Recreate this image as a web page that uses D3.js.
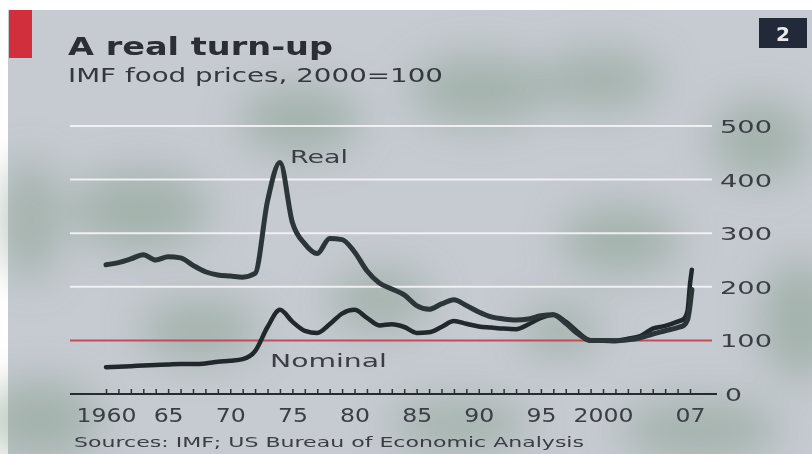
<!DOCTYPE html>
<html><head><meta charset="utf-8">
<script src="https://cdn.jsdelivr.net/npm/d3@7"></script>
<style>html,body{margin:0;padding:0;background:#fff;}svg{display:block;}</style>
</head><body>
<svg id="chart" width="812" height="454"></svg>
<script>
// ---- data ----
const years = [1960,1961,1962,1963,1964,1965,1966,1967,1968,1969,1970,1971,1972,1973,1974,1975,1976,1977,1978,1979,
  1980,1981,1982,1983,1984,1985,1986,1987,1988,1989,1990,1991,1992,1993,1994,1995,1996,1997,1998,1999,
  2000,2001,2002,2003,2004,2005,2006,2006.5,2006.8,2007.0,2007.15];
const realValues = [241,245,252,260,250,256,254,240,228,222,220,218,225,360,432,320,280,262,290,288,
  265,230,207,196,185,165,158,168,176,165,153,144,140,138,140,146,148,132,112,100,
  100,99,101,105,112,118,124,128,138,165,195];
const nominalValues = [50,51,52,53,54,55,56,56,57,60,62,65,80,125,157,135,118,114,130,150,
  157,142,128,130,125,114,115,125,136,131,126,124,122,121,130,142,148,135,115,100,
  100,100,103,108,122,127,135,140,155,205,232];
const yTicks = [0,100,200,300,400,500];
const xTickYears = [1960,1965,1970,1975,1980,1985,1990,1995,2000,2007];
const xTickLabels = ["1960","65","70","75","80","85","90","95","2000","07"];
const title = "A real turn-up";
const subtitle = "IMF food prices, 2000=100";
const source = "Sources: IMF; US Bureau of Economic Analysis";

// ---- drawing ----
const svg = d3.select("#chart");
const defs = svg.append("defs");
defs.append("filter").attr("id","blur").attr("x","-50%").attr("y","-50%").attr("width","200%").attr("height","200%")
  .append("feGaussianBlur").attr("stdDeviation",20);

// background panel
svg.append("rect").attr("x",8).attr("y",10).attr("width",804).attr("height",444).attr("fill","#c6cad1");
const blobs = [[140,210,70,40],[300,120,60,35],[480,90,70,35],[600,80,60,30],[760,140,50,40],[800,320,40,60],
  [700,430,80,30],[460,425,70,25],[40,420,60,40],[380,300,50,30],[620,240,60,35],[200,330,60,30],[30,220,30,60],[560,330,40,25]];
const bg = svg.append("g").attr("filter","url(#blur)");
bg.selectAll("ellipse").data(blobs).join("ellipse")
  .attr("cx",d=>d[0]).attr("cy",d=>d[1]).attr("rx",d=>d[2]).attr("ry",d=>d[3])
  .attr("fill","#87a08e").attr("opacity",0.55);

// red tab
svg.append("rect").attr("x",9).attr("y",10).attr("width",23).attr("height",48).attr("fill","#d22f3c");
// badge
svg.append("rect").attr("x",759).attr("y",18).attr("width",48).attr("height",30).attr("fill","#222a3a");
svg.append("text").attr("x",783).attr("y",41).attr("text-anchor","middle").attr("fill","#e8eaf0")
  .attr("font-family","DejaVu Sans").attr("font-weight","bold").attr("font-size",20).text("2");

// titles
svg.append("text").attr("x",68).attr("y",55).attr("fill","#2b2e33")
  .attr("font-family","DejaVu Sans").attr("font-weight","bold").attr("font-size",25)
  .attr("textLength",265).attr("lengthAdjust","spacingAndGlyphs").text(title);
svg.append("text").attr("x",68).attr("y",82).attr("fill","#34383e")
  .attr("font-family","DejaVu Sans").attr("font-size",19)
  .attr("textLength",375).attr("lengthAdjust","spacingAndGlyphs").text(subtitle);

// scales
const x = d3.scaleLinear().domain([1960,2007]).range([106,690]);
const y = d3.scaleLinear().domain([0,500]).range([394,126]);

// gridlines
const grid = svg.append("g");
grid.selectAll("line").data(yTicks.filter(v=>v>0)).join("line")
  .attr("x1",70).attr("x2",712).attr("y1",d=>y(d)).attr("y2",d=>y(d))
  .attr("stroke",d=>d===100?"#c2414f":"#f4f5f8").attr("stroke-width",2).attr("opacity",0.9);

// y axis labels (right)
const yAxis = d3.axisRight(y).tickValues(yTicks).tickSize(0).tickPadding(0);
const yg = svg.append("g").attr("transform","translate(720,0)").call(yAxis);
yg.select(".domain").remove();
yg.selectAll("text").attr("font-family","DejaVu Sans").attr("font-size",18).attr("fill","#3a3e44")
  .attr("x",d=>d===0?5:0).attr("dy","0.36em")
  .attr("textLength",d=>d===0?17:52).attr("lengthAdjust","spacingAndGlyphs");

// x axis: minor ticks per year upward
const tickYears = d3.range(1960,2008);
const xMinor = d3.axisTop(x).tickValues(tickYears).tickSize(5).tickFormat("");
const xm = svg.append("g").attr("transform","translate(0,394)").call(xMinor);
xm.select(".domain").remove();
xm.selectAll("line").attr("stroke","#2e3338").attr("stroke-width",1.5);
svg.append("line").attr("x1",70).attr("x2",717).attr("y1",394).attr("y2",394).attr("stroke","#262b30").attr("stroke-width",2);

// x labels
const xAxis = d3.axisBottom(x).tickValues(xTickYears).tickSize(0).tickPadding(0)
  .tickFormat((d,i)=>xTickLabels[i]);
const xg = svg.append("g").attr("transform","translate(0,408)").call(xAxis);
xg.select(".domain").remove();
xg.selectAll("text").attr("font-family","DejaVu Sans").attr("font-size",19).attr("fill","#3a3e44")
  .attr("dy","0.72em")
  .attr("textLength",(d,i)=>xTickLabels[i].length*15).attr("lengthAdjust","spacingAndGlyphs");

// lines
const line = d3.line().x(d=>x(d[0])).y(d=>y(d[1])).curve(d3.curveMonotoneX);
svg.append("path").datum(years.map((yr,i)=>[yr,nominalValues[i]]))
  .attr("d",line).attr("fill","none").attr("stroke","#20282c").attr("stroke-width",4.5)
  .attr("stroke-linejoin","round").attr("stroke-linecap","round");
svg.append("path").datum(years.map((yr,i)=>[yr,realValues[i]]))
  .attr("d",line).attr("fill","none").attr("stroke","#2c3538").attr("stroke-width",5)
  .attr("stroke-linejoin","round").attr("stroke-linecap","round");

// series labels
svg.append("text").attr("x",290).attr("y",163).attr("fill","#3a3e44")
  .attr("font-family","DejaVu Sans").attr("font-size",17)
  .attr("textLength",58).attr("lengthAdjust","spacingAndGlyphs").text("Real");
svg.append("text").attr("x",270).attr("y",367).attr("fill","#3a3e44")
  .attr("font-family","DejaVu Sans").attr("font-size",17)
  .attr("textLength",117).attr("lengthAdjust","spacingAndGlyphs").text("Nominal");

// source
svg.append("text").attr("x",74).attr("y",447).attr("fill","#3a3e44")
  .attr("font-family","DejaVu Sans").attr("font-size",14)
  .attr("textLength",510).attr("lengthAdjust","spacingAndGlyphs").text(source);
</script>
</body></html>
